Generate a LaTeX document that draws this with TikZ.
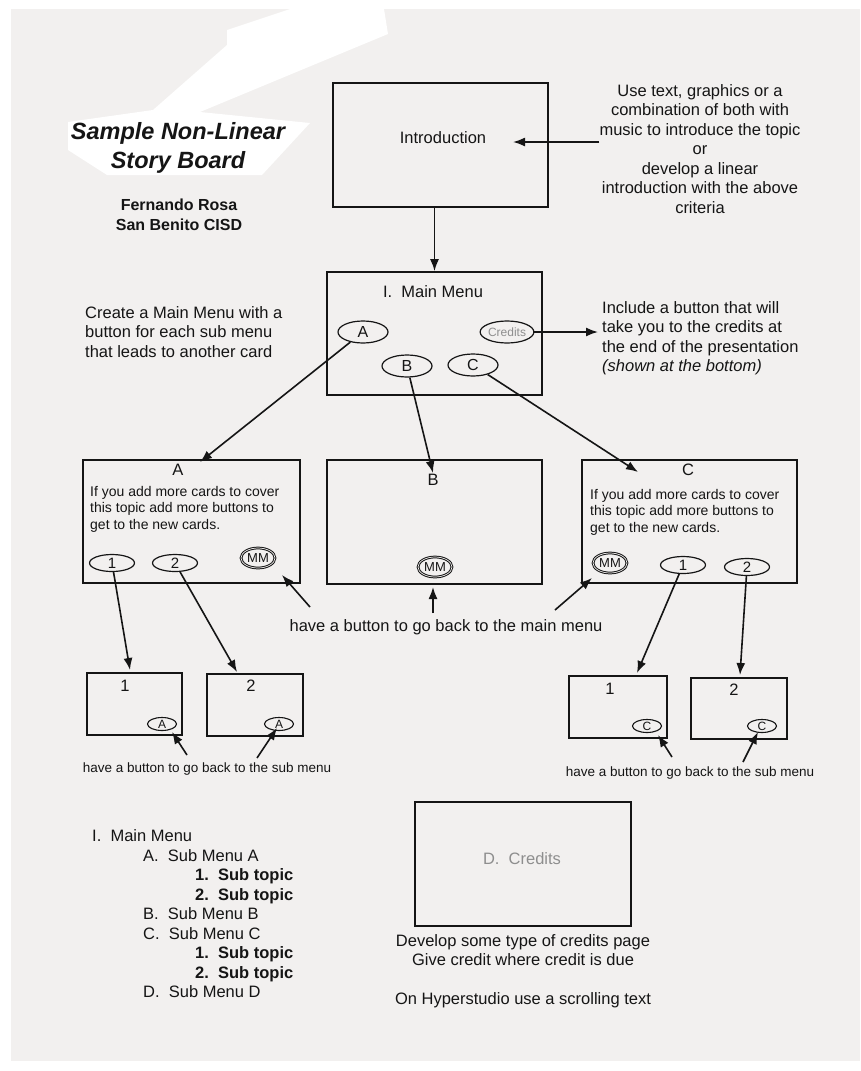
\documentclass[tikz,border=0pt]{standalone}
\usepackage{fontspec}
\setmainfont{Liberation Sans}
\usetikzlibrary{shapes.geometric,arrows.meta}
\definecolor{paper}{HTML}{F2F0EF}
\definecolor{ink}{HTML}{151515}
\definecolor{faint}{HTML}{8E8E8E}

\begin{document}
\begin{tikzpicture}[x=1pt,y=-1pt,
  every node/.style={text=ink, inner sep=0pt},
  card/.style={draw=ink, line width=1.8pt, rectangle, inner sep=0pt},
  btn/.style={draw=ink, line width=1.2pt, ellipse, inner sep=0pt,
    minimum width=50pt, minimum height=22pt, font=\fontsize{16}{16}\selectfont},
  smallbtn/.style={btn, minimum width=45pt, minimum height=17pt, font=\fontsize{15}{15}\selectfont},
  tinybtn/.style={btn, line width=1.1pt, minimum width=29pt, minimum height=13pt, font=\fontsize{12}{12}\selectfont},
  mmbtn/.style={btn, line width=1pt, double=paper, double distance=0.7pt,
    minimum width=34pt, minimum height=20pt, font=\fontsize{13}{13}\selectfont},
  body/.style={font=\fontsize{16.5}{19.5}\selectfont, align=center},
  cardtext/.style={font=\fontsize{14}{16.5}\selectfont, align=left, anchor=west},
  subnote/.style={font=\fontsize{13.5}{16}\selectfont},
  arr/.style={draw=ink, line width=1.6pt, -{Latex[length=12pt,width=9pt]}},
]
% page and paper
\useasboundingbox (0,0) rectangle (860,1071);
\fill[white] (0,0) rectangle (860,1071);
\fill[paper] (11,9) rectangle (860,1061);
\fill[white] (290,9) -- (384,9) -- (388,34) -- (200,112) -- (310,123) -- (262,175)
  -- (107,175) -- (68,150) -- (68,122) -- (153,110) -- (227,45) -- (227,30) -- cycle;

% heading
\node[font=\fontsize{23.5}{29}\selectfont\bfseries\itshape, align=center] (title) at (178,148)
  {Sample Non-Linear\\Story Board};
\node[font=\fontsize{16}{20}\selectfont\bfseries, align=center] (author) at (179,215)
  {Fernando Rosa\\San Benito CISD};

% introduction card
\node[card, minimum width=215pt, minimum height=124pt] (intro) at (440.5,145) {};
\node[body] (introText) at (443,138) {Introduction};
\node[body] (noteIntro) at (700,149) {Use text, graphics or a\\combination of both with\\music to introduce the topic\\or\\develop a linear\\introduction with the above\\criteria};
\coordinate (introTip) at (513,142);
\draw[arr] (noteIntro.west |- introTip) -- (introTip);

% main menu card
\node[card, minimum width=215pt, minimum height=123pt] (menu) at (434.5,333.5) {};
\draw[arr] (menu.north |- intro.south) -- (menu.north);
\node[body] (menuTitle) at (433,292) {I.\ \ Main Menu};
\node[btn] (ovA) at (363,332) {A};
\node[btn, minimum width=48pt] (ovCr) at (507,332) {\fontsize{12}{12}\selectfont\color{faint}Credits};
\node[btn] (ovB) at (407,366) {B};
\node[btn] (ovC) at (473,365) {C};

\node[body, align=left, anchor=west] (noteCr) at (602,338)
  {Include a button that will\\take you to the credits at\\the end of the presentation\\\textit{(shown at the bottom)}};
\draw[arr] (ovCr.east) -- ([xshift=-4pt]noteCr.west |- ovCr.east);
\node[body, align=left, anchor=west] (noteMenu) at (85,332)
  {Create a Main Menu with a\\button for each sub menu\\that leads to another card};

% sub menu cards
\node[card, minimum width=217pt, minimum height=123pt] (cardA) at (191.5,521.5) {};
\node[card, minimum width=215pt, minimum height=124pt] (cardB) at (434.5,522) {};
\node[card, minimum width=215pt, minimum height=123pt] (cardC) at (689.5,521.5) {};
\node[body] (labA) at (178,470) {A};
\node[body] (labB) at (433,480) {B};
\node[body] (labC) at (688,470) {C};
\node[cardtext] (txtA) at (90,509) {If you add more cards to cover\\this topic add more buttons to\\get to the new cards.};
\node[cardtext] (txtC) at (590,512) {If you add more cards to cover\\this topic add more buttons to\\get to the new cards.};

\node[smallbtn] (a1) at (112,563) {1};
\node[smallbtn] (a2) at (175,563) {2};
\node[mmbtn] (amm) at (258,558) {MM};
\node[mmbtn] (bmm) at (435,567) {MM};
\node[mmbtn] (cmm) at (610,563) {MM};
\node[smallbtn] (c1) at (683,565) {1};
\node[smallbtn] (c2) at (747,567) {2};

\coordinate (tipA) at (200,462);
\coordinate (tipB) at (433,473);
\coordinate (tipC) at (638,472);
\draw[arr] (ovA) -- (tipA);
\draw[arr] (ovB) -- (tipB);
\draw[arr] (ovC) -- (tipC);

% back to the main menu
\node[body] (noteMM) at (446,627) {have a button to go back to the main menu};
\coordinate (mmL0) at (310,607);  \coordinate (mmL1) at (282,575);
\coordinate (mmM0) at (433,613);  \coordinate (mmM1) at (433,587);
\coordinate (mmR0) at (555,610);  \coordinate (mmR1) at (592,578);
\draw[arr] (mmL0) -- (mmL1);
\draw[arr] (mmM0) -- (mmM1);
\draw[arr] (mmR0) -- (mmR1);

% sub topic cards
\node[card, minimum width=95pt, minimum height=62pt] (sA1) at (134.5,704) {};
\node[card, minimum width=96pt, minimum height=62pt] (sA2) at (255,705) {};
\node[card, minimum width=98pt, minimum height=62pt] (sC1) at (618,707) {};
\node[card, minimum width=96pt, minimum height=61pt] (sC2) at (739,708.5) {};
\node[body] (labA1) at (125,686) {1};
\node[body] (labA2) at (251,686) {2};
\node[body] (labC1) at (610,689) {1};
\node[body] (labC2) at (734,690) {2};
\node[tinybtn] (ba1) at (162,724) {A};
\node[tinybtn] (ba2) at (279,724) {A};
\node[tinybtn] (bc1) at (647,726) {C};
\node[tinybtn] (bc2) at (762,726) {C};

\coordinate (tA1) at (130,670);
\coordinate (tA2) at (237,672);
\coordinate (tC1) at (637,673);
\coordinate (tC2) at (740,675);
\draw[arr] (a1) -- (tA1);
\draw[arr] (a2) -- (tA2);
\draw[arr] (c1) -- (tC1);
\draw[arr] (c2) -- (tC2);

% back to the sub menu
\node[subnote] (noteSA) at (207,769) {have a button to go back to the sub menu};
\node[subnote] (noteSC) at (690,773) {have a button to go back to the sub menu};
\coordinate (sa10) at (187,755);  \coordinate (sa11) at (172,732);
\coordinate (sa20) at (257,758);  \coordinate (sa21) at (277,728);
\coordinate (sc10) at (672,757);  \coordinate (sc11) at (658,735);
\coordinate (sc20) at (743,762);  \coordinate (sc21) at (758,732);
\draw[arr] (sa10) -- (sa11);
\draw[arr] (sa20) -- (sa21);
\draw[arr] (sc10) -- (sc11);
\draw[arr] (sc20) -- (sc21);

% outline of the cards
\node[font=\fontsize{16.5}{19.5}\selectfont, align=left, anchor=west] (outline) at (92,914)
  {I.\ \ Main Menu\\
   \hspace*{51pt}A.\ \ Sub Menu A\\
   \hspace*{103pt}\textbf{1.\ \ Sub topic}\\
   \hspace*{103pt}\textbf{2.\ \ Sub topic}\\
   \hspace*{51pt}B.\ \ Sub Menu B\\
   \hspace*{51pt}C.\ \ Sub Menu C\\
   \hspace*{103pt}\textbf{1.\ \ Sub topic}\\
   \hspace*{103pt}\textbf{2.\ \ Sub topic}\\
   \hspace*{51pt}D.\ \ Sub Menu D};

% credits card
\node[card, minimum width=216pt, minimum height=124pt] (credits) at (523,864) {};
\node[body, text=faint] (credText) at (522,859) {D.\ \ Credits};
\node[body] (noteCredits) at (523,971)
  {Develop some type of credits page\\Give credit where credit is due\\[19.5pt]On Hyperstudio use a scrolling text};
\end{tikzpicture}
\end{document}
